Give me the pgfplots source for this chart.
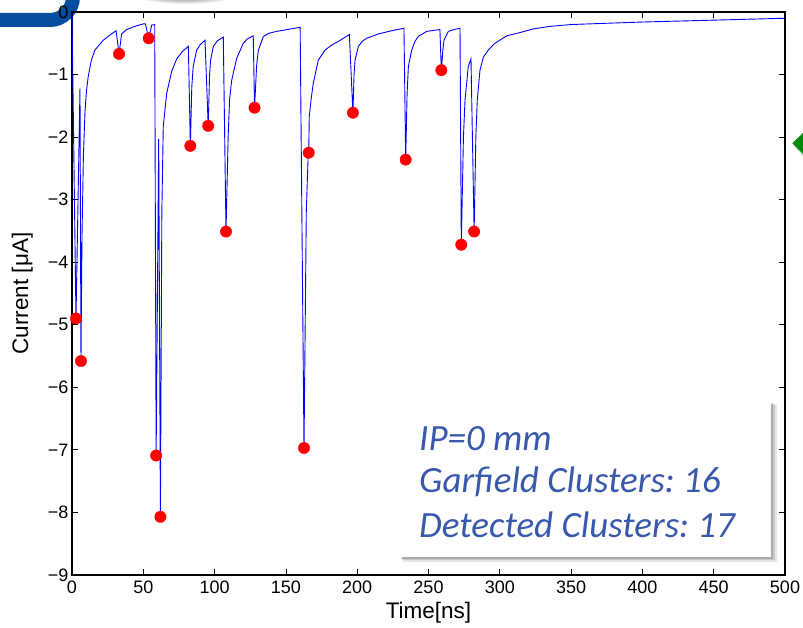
\documentclass[border=0pt]{standalone}
\usepackage{fontspec}
\setmainfont{Liberation Sans}
\newfontfamily\calibri{Carlito}
\usepackage{pgfplots}
\pgfplotsset{compat=1.18}
\usetikzlibrary{shadows}
\definecolor{boxblue}{RGB}{56,88,172}
\definecolor{logoblue}{RGB}{8,78,160}
\definecolor{arrowgreen}{RGB}{0,140,10}
\frenchspacing
\begin{document}
\begin{tikzpicture}[x=1pt,y=1pt]
\useasboundingbox (-72,-52) rectangle (731,575);
% slide decorations behind the chart
\shade[inner color=black!85, outer color=white] (113,584) ellipse (58 and 13);
\draw[logoblue, line width=14pt] (-85,555) -- (-22,555) arc[start angle=270,end angle=360,radius=23];
\fill[black,opacity=0.15] (722,429) -- (734,443) -- (734,415) -- cycle;
\fill[arrowgreen] (720.3,431.7) -- (735,446) -- (735,417) -- cycle;
\begin{axis}[
  at={(0,0)}, anchor=south west, scale only axis,
  width=713pt, height=563pt,
  xmin=0, xmax=500, ymin=-9, ymax=0,
  xtick={0,50,100,150,200,250,300,350,400,450,500},
  xticklabels={0,50,100,150,200,250,300,350,400,450,500},
  ytick={-9,-8,-7,-6,-5,-4,-3,-2,-1,0},
  yticklabels={−9,−8,−7,−6,−5,−4,−3,−2,−1,0},
  tick align=inside, major tick length=6pt,
  tick style={black, line width=0.8pt},
  axis line style={black, line width=1.1pt},
  tick label style={font=\fontsize{18}{21}\selectfont},
  xticklabel style={yshift=-2pt},
  xlabel={Time[ns]}, ylabel={Current [μA]},
  xlabel style={font=\fontsize{22.5}{26}\selectfont, at={(axis description cs:0.5,0)},
     anchor=north, inner sep=0pt, yshift=-27pt},
  ylabel style={font=\fontsize{22.5}{26}\selectfont,
     at={([xshift=-39pt]axis description cs:0,0.5)},
     anchor=south, inner sep=0pt},
  clip=false,
]
\addplot[blue, line width=0.9pt] coordinates {
(0,-0.02) (2.8,-4.90) (5.6,-1.22) (6.3,-5.58) (7.0,-3.6) (8.0,-2.3) (9.1,-1.6)
(10.2,-1.25) (11.4,-1.03) (13.5,-0.78) (16,-0.61) (22,-0.45) (26.5,-0.37) (30.9,-0.30)
(33,-0.67) (34.8,-0.35) (38.3,-0.28) (44,-0.23) (50,-0.19) (51.5,-0.19)
(53.8,-0.42) (55.9,-0.21) (58.0,-0.20)
(59,-7.09) (60.8,-2.03) (62,-8.07) (63.0,-3.2) (64,-1.83) (66.4,-1.30) (69.9,-0.95)
(73.4,-0.75) (77.5,-0.63) (81.6,-0.55)
(83,-2.14) (84,-1.2) (85,-0.87) (87.4,-0.61) (90,-0.52) (93.3,-0.45)
(95.5,-1.82) (96.5,-1.0) (97.2,-0.77) (99.1,-0.55) (102,-0.46) (106.1,-0.40)
(108,-3.51) (109.5,-2.0) (110.5,-1.4) (112,-1.09) (115.5,-0.74) (120.1,-0.5)
(123,-0.43) (127.1,-0.38)
(128,-1.53) (129.5,-0.85) (130.7,-0.61) (134.2,-0.39) (138,-0.34) (143.5,-0.31)
(151,-0.28) (160,-0.245)
(162.7,-6.97) (164.3,-3.2) (165.6,-2.3) (166.0,-2.25) (166.4,-1.67) (167.6,-1.41)
(169.2,-1.14) (172.7,-0.77) (177.4,-0.61) (182,-0.53) (186.8,-0.47) (194.5,-0.36)
(197,-1.61) (197.8,-1.0) (198.5,-0.77) (200.8,-0.55) (203.5,-0.47) (206.6,-0.42)
(215,-0.35) (224,-0.30) (232.8,-0.26)
(234,-2.36) (235,-1.3) (235.9,-0.87) (238.2,-0.61) (240.5,-0.47) (242.9,-0.39)
(248.7,-0.31) (258,-0.28)
(259,-0.93) (260.1,-0.6) (260.9,-0.45) (263.9,-0.31) (268,-0.28) (272.1,-0.26)
(273,-3.72) (274.5,-2.0) (275.6,-1.41) (277.9,-0.87) (279.8,-0.75)
(282,-3.51) (283.2,-2.0) (284.2,-1.41) (286.1,-0.93) (288.5,-0.72) (291.9,-0.61)
(296,-0.51) (300,-0.45) (305,-0.38) (314,-0.33) (323.5,-0.27) (335,-0.23)
(350.4,-0.20) (375,-0.18) (400.6,-0.16) (450,-0.13) (500,-0.10)
};
\addplot[only marks, mark=*, mark size=5.7pt, color=red, fill=red] coordinates {
(2.8,-4.90) (6.3,-5.58) (33,-0.67) (53.8,-0.42) (59,-7.09) (62,-8.07)
(83,-2.14) (95.5,-1.82) (108,-3.51) (128,-1.53) (162.7,-6.97) (166.0,-2.25)
(197,-1.61) (234,-2.36) (259,-0.93) (273,-3.72) (282,-3.51)
};
\end{axis}
% annotation box
\fill[black,opacity=0.10] (331,13) rectangle (705,170);
\fill[black,opacity=0.12] (330,15) rectangle (703,171);
\fill[black,opacity=0.15] (329,16.5) rectangle (701,172);
\fill[white] (328,18) rectangle (699,173);
\begin{scope}[every node/.style={anchor=base west, inner sep=0pt, text=boxblue,
   font=\calibri\itshape\fontsize{37}{41}\selectfont}]
\node at (347,125) {IP=0 mm};
\node at (347,83) {Garfield Clusters: 16};
\node at (347,38) {Detected Clusters: 17};
\end{scope}
\end{tikzpicture}
\end{document}
